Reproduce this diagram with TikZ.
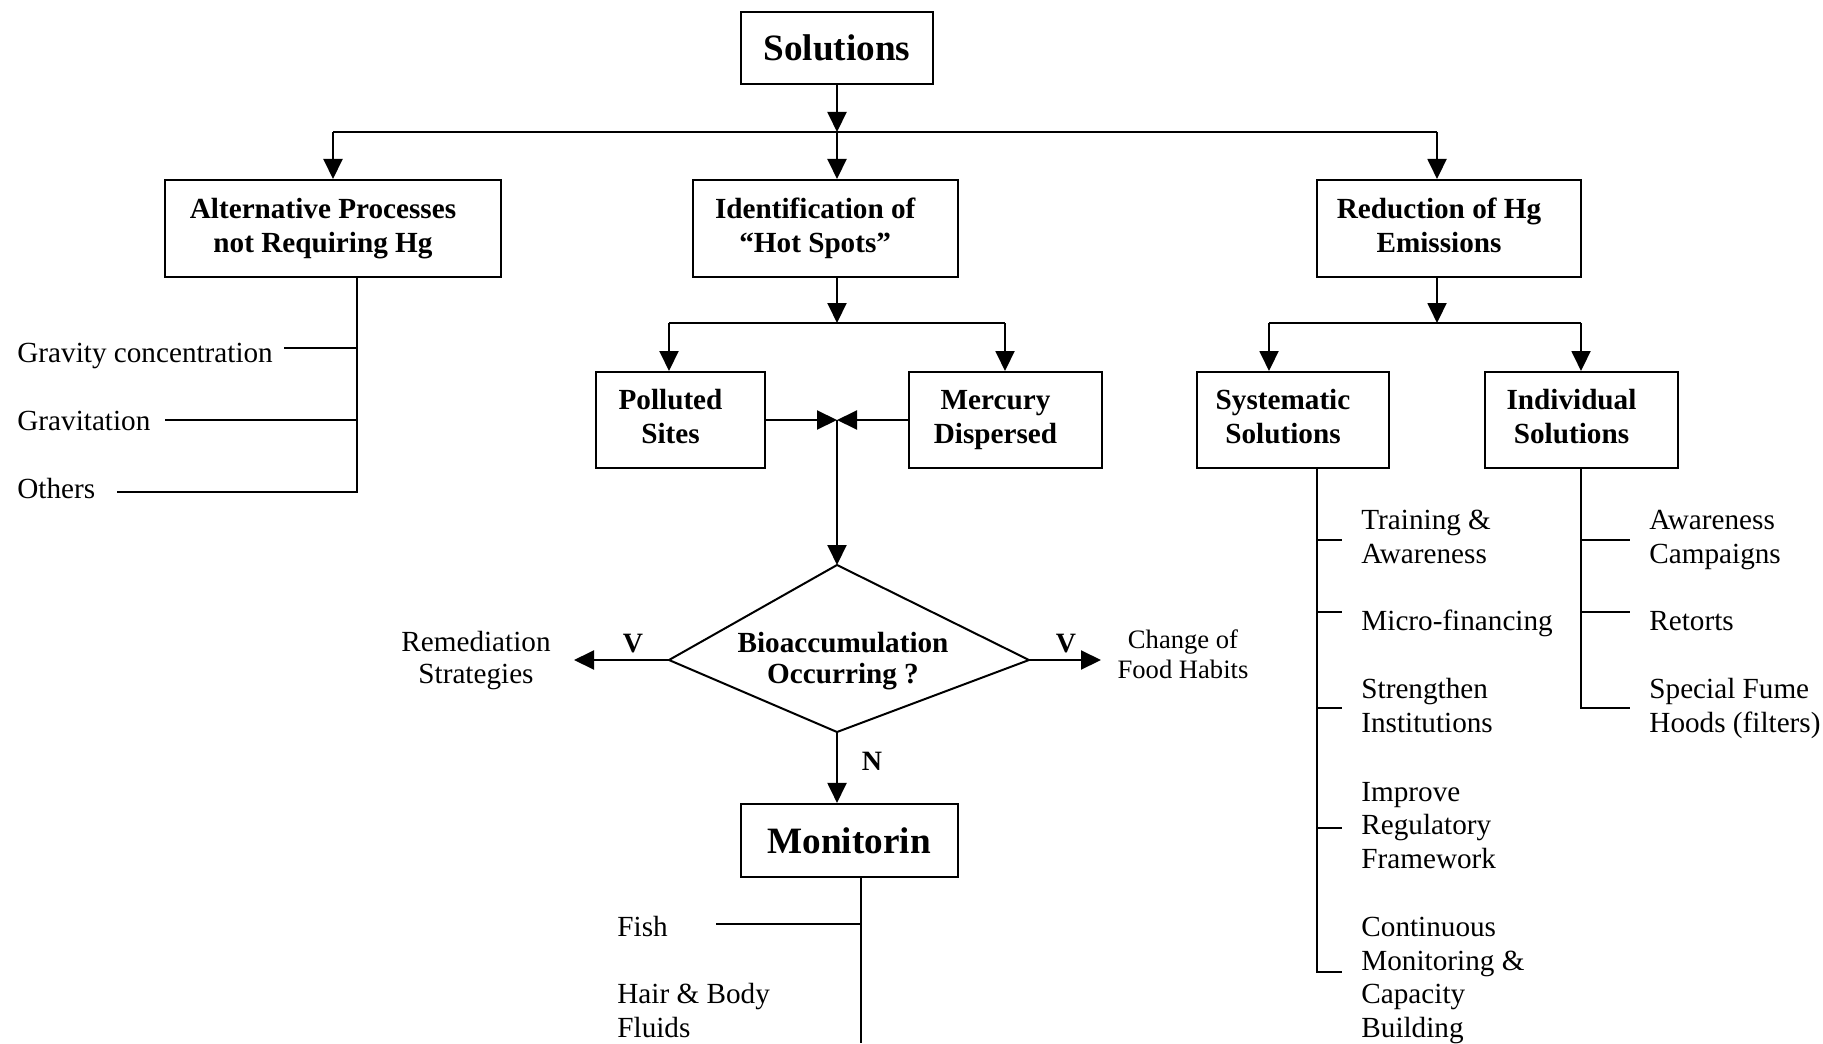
\documentclass[tikz,border=0pt]{standalone}
\usepackage{fontspec}
\setmainfont{Liberation Serif}
\usepackage{tikz}
\usetikzlibrary{positioning,calc,arrows.meta}

\begin{document}
\begin{tikzpicture}[
        x=0.5pt, y=-0.5pt,
        every node/.style={inner sep=0pt},
        hgbox/.style={rectangle, draw=black, line width=1pt, fill=white},
        boxlbl/.style={font=\bfseries\fontsize{14.6}{17}\selectfont, align=center, xshift=-5pt, text depth=3.2pt},
        bigbox/.style={font=\bfseries\fontsize{18.6}{22}\selectfont, align=center},
        itemtxt/.style={font=\fontsize{14.6}{16.75}\selectfont, align=left, anchor=base west},
        ctrtxt/.style={font=\fontsize{14.6}{16}\selectfont, align=center, anchor=base},
        yn/.style={font=\bfseries\fontsize{14}{16}\selectfont, anchor=base},
        line/.style={draw=black, line width=1pt},
        arrow/.style={line, -{Triangle[length=10pt, width=9.5pt]}}
        ]
        \useasboundingbox (0,0) rectangle (1823,1043);

        % main boxes
        \node[hgbox, minimum width=96pt, minimum height=36pt, bigbox] (sol) at (837,48) {Solutions};
        \node[hgbox, minimum width=168.2pt, minimum height=48.5pt,
              label={[boxlbl]center:{Alternative Processes\\not Requiring Hg}}] (alt) at (333,228.5) {};
        \node[hgbox, minimum width=132.6pt, minimum height=48.5pt,
              label={[boxlbl]center:{Identification of\\``Hot Spots''}}] (ident) at (825.2,228.5) {};
        \node[hgbox, minimum width=132pt, minimum height=48.5pt,
              label={[boxlbl]center:{Reduction of Hg\\Emissions}}] (reduc) at (1449,228.5) {};

        \node[hgbox, minimum width=84.5pt, minimum height=48pt,
              label={[boxlbl]center:{Polluted\\Sites}}] (poll) at (680.5,420) {};
        \node[hgbox, minimum width=96.5pt, minimum height=48pt,
              label={[boxlbl]center:{Mercury\\Dispersed}}] (merc) at (1005.5,420) {};
        \node[hgbox, minimum width=96.25pt, minimum height=48pt,
              label={[boxlbl]center:{Systematic\\Solutions}}] (syst) at (1293,420) {};
        \node[hgbox, minimum width=96.5pt, minimum height=48pt,
              label={[boxlbl]center:{Individual\\Solutions}}] (indiv) at (1581.5,420) {};

        \node[hgbox, minimum width=108.5pt, minimum height=36.35pt, bigbox] (moni) at (849.2,840.3) {Monitorin};

        % decision
        \coordinate (dtop) at (837,565);
        \coordinate (dright) at (1029,660);
        \coordinate (dbot) at (837,732);
        \coordinate (dleft) at (669,660);
        \draw[line] (dtop) -- (dright) -- (dbot) -- (dleft) -- cycle;
        \node[font=\bfseries\fontsize{14.6}{15.5}\selectfont, align=center, anchor=base] (bio) at (843,683) {Bioaccumulation\\Occurring ?};

        % tree connectors
        \coordinate (bus0) at (837,132);
        \coordinate (busR) at (1437,132);
        \coordinate (bus1) at (837,323);
        \coordinate (bus2) at (1437,323);
        \coordinate (join) at (837,420);

        \draw[arrow] (sol) -- (bus0);
        \draw[line] (alt.north |- bus0) -- (busR);
        \draw[arrow] (alt.north |- bus0) -- (alt.north);
        \draw[arrow] (bus0) -- (bus0 |- ident.north);
        \draw[arrow] (busR) -- (busR |- reduc.north);

        \draw[arrow] (bus1 |- ident.south) -- (bus1);
        \draw[line] (669,323) -- (1005,323);
        \draw[arrow] (669,323) -- (669,323 |- poll.north);
        \draw[arrow] (1005,323) -- (1005,323 |- merc.north);

        \draw[arrow] (bus2 |- reduc.south) -- (bus2);
        \draw[line] (1269,323) -- (1581,323);
        \draw[arrow] (1269,323) -- (1269,323 |- syst.north);
        \draw[arrow] (1581,323) -- (1581,323 |- indiv.north);

        \draw[arrow] (poll.east) -- (join);
        \draw[arrow] (merc.west) -- (join);
        \draw[arrow] (join) -- (dtop);

        % yes / no branches
        \coordinate (remtip) at (574,660);
        \coordinate (foodtip) at (1101,660);
        \draw[arrow] (dleft) -- (remtip);
        \draw[arrow] (dright) -- (foodtip);
        \draw[arrow] (dbot) -- (dbot |- moni.north);
        \node[yn] (vleft) at (633,652) {V};
        \node[yn] (vright) at (1066,652) {V};
        \node[yn] (nlbl) at (872,770) {N};
        \node[ctrtxt] (remed) at (476,683) {Remediation\\Strategies};
        \node[ctrtxt, font=\fontsize{13.3}{15}\selectfont] (food) at (1183,678) {Change of\\Food Habits};

        % alternative processes list
        \coordinate (altend) at (357,492);
        \draw[line] (altend |- alt.south) -- (altend) -- (117,492);
        \draw[line] (284,348) -- (284,348 -| altend);
        \draw[line] (165,420) -- (165,420 -| altend);
        \node[itemtxt] (grav) at (17,362) {Gravity concentration};
        \node[itemtxt] (gravt) at (17,430) {Gravitation};
        \node[itemtxt] (oth) at (17,498) {Others};

        % systematic solutions list
        \coordinate (sysend) at (1317,972);
        \draw[line] (sysend |- syst.south) -- (sysend) -- (1342,972);
        \foreach \ty in {540,612,708,828}
            \draw[line] (1317,\ty) -- (1342,\ty);
        \node[itemtxt] (train) at (1361,563) {Training \&\\Awareness};
        \node[itemtxt] (micro) at (1361,630) {Micro-financing};
        \node[itemtxt] (stren) at (1361,732) {Strengthen\\Institutions};
        \node[itemtxt] (regul) at (1361,868) {Improve\\Regulatory\\Framework};
        \node[itemtxt] (contm) at (1361,1037) {Continuous\\Monitoring \&\\Capacity\\Building};

        % individual solutions list
        \coordinate (indend) at (1581,708);
        \draw[line] (indend |- indiv.south) -- (indend) -- (1630,708);
        \foreach \ty in {540,612}
            \draw[line] (1581,\ty) -- (1630,\ty);
        \node[itemtxt] (aware) at (1649,563) {Awareness\\Campaigns};
        \node[itemtxt] (retor) at (1649,630) {Retorts};
        \node[itemtxt] (fume) at (1649,732) {Special Fume\\Hoods (filters)};

        % monitoring list
        \coordinate (monend) at (861,1043);
        \draw[line] (monend |- moni.south) -- (monend);
        \draw[line] (716,924) -- (716,924 -| monend);
        \node[itemtxt] (fish) at (617,936) {Fish};
        \node[itemtxt] (hair) at (617,1037) {Hair \& Body\\Fluids};

    \end{tikzpicture}
\end{document}
